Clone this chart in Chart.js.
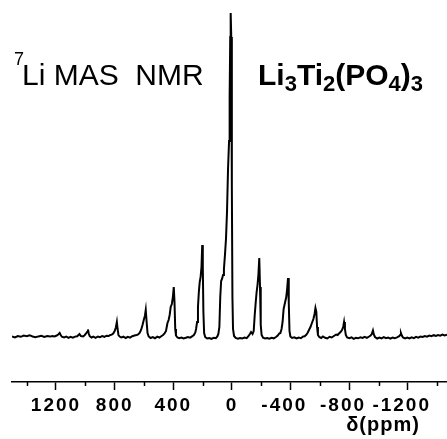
<!DOCTYPE html>
<html>
<head>
<meta charset="utf-8">
<script src="https://cdn.jsdelivr.net/npm/chart.js@4/dist/chart.umd.min.js"></script>
<style>
  html, body { margin: 0; padding: 0; background: #fff; }
  #wrap { width: 447px; height: 439px; position: relative; }
</style>
</head>
<body>
<div id="wrap"><canvas id="nmrChart"></canvas></div>
<script>
"use strict";

// chemical shift (ppm)
const shiftPpm = [
  1500, 1480, 1460, 1440, 1420, 1400, 1380, 1360, 1340, 1320, 1300, 1280,
  1260, 1240, 1225, 1210, 1195, 1185, 1175, 1168, 1160, 1145, 1130, 1115,
  1100, 1085, 1070, 1055, 1040, 1030, 1015, 1005, 995, 988, 982, 976,
  970, 958, 945, 930, 915, 900, 885, 870, 855, 840, 830, 820,
  810, 800, 792, 785, 780, 774, 766, 755, 740, 725, 710, 695,
  680, 665, 650, 640, 630, 620, 610, 600, 594, 588, 582, 576,
  568, 555, 540, 525, 510, 495, 480, 470, 460, 450, 440, 432,
  425, 418, 410, 403, 397, 392, 387, 382, 372, 360, 345, 330,
  315, 300, 285, 270, 260, 250, 245, 238, 232, 226, 220, 214,
  208, 203, 199, 195, 190, 183, 170, 155, 140, 125, 110, 100,
  93, 86, 80, 74, 68, 61, 55, 48, 41, 34, 27, 20,
  16, 12, 9, 5, 1, -3, -7, -14, -25, -40, -55, -70,
  -85, -100, -112, -122, -130, -140, -148, -155, -162, -168, -174, -180,
  -186, -191, -196, -202, -212, -225, -240, -255, -270, -285, -300, -312,
  -322, -330, -338, -345, -352, -358, -364, -370, -376, -382, -387, -392,
  -398, -410, -425, -440, -455, -470, -485, -495, -505, -515, -525, -535,
  -545, -555, -563, -569, -575, -580, -586, -595, -608, -620, -635, -650,
  -665, -680, -695, -710, -720, -730, -740, -750, -758, -764, -770, -776,
  -785, -800, -815, -830, -845, -860, -875, -890, -905, -920, -935, -945,
  -953, -961, -967, -975, -990, -1005, -1020, -1035, -1050, -1065, -1080, -1095,
  -1110, -1125, -1140, -1147, -1152, -1158, -1166, -1180, -1195, -1210, -1225, -1240,
  -1255, -1270, -1285, -1300, -1315, -1330, -1345, -1360, -1375, -1390, -1405, -1420,
  -1435, -1450, -1466
];

// intensity (a.u.)
const intensity = [
  0.5, -0.5, 1.0, 0.2, 1.5, 0.8, 1.8, 0.5, -0.3, 0.6, 1.2, 0.1,
  0.9, 0.4, 1.0, 0.6, 1.5, 2.5, 4.0, 2.0, 0.3, -0.4, 0.5, -0.8,
  0.2, -0.6, 0.4, 0.8, 3.0, 1.0, 0.6, 1.8, 3.5, 5.0, 7.5, 3.0,
  0.8, -0.5, 0.3, -0.8, 0.5, -0.2, 0.9, 0.2, 1.3, 1.0, 2.0, 2.4,
  3.5, 6.0, 9.5, 15.0, 8.0, 2.0, 0.5, -0.5, 0.3, -1.0, 0.2, -0.6,
  0.8, 1.5, 2.0, 2.5, 4.0, 7.0, 12.0, 18.0, 21.0, 27.0, 15.0, 4.0,
  0.5, -1.0, 0.0, -1.2, 0.4, -0.5, 1.0, 2.0, 3.5, 6.0, 14.0, 17.0,
  22, 30, 33, 40, 50, 35, 8, 1.5, -0.5, -1.2, -0.5, -1.5,
  -0.8, 0.0, -0.6, 0.8, 2.0, 4.5, 8, 15, 30, 45, 55, 60,
  70, 92, 70, 25, 4, 0, -1.5, -1.0, -1.8, -0.8, -1.2, 0.5,
  3, 10, 40, 56, 58, 62, 68, 82, 98, 125, 168, 196,
  240, 300, 324, 300, 150, 40, 8, 1.0, -1.0, -1.8, -1.0, -1.5,
  -0.5, -1.2, 0.8, 3.0, 5.0, 3.0, 6.0, 22, 35, 45, 52, 62,
  79, 50, 12, 2, -0.8, -1.5, -1.0, -1.6, -0.7, -1.3, 0.0, 1.5,
  3.5, 4.0, 8, 15, 28, 32, 36, 40, 48, 59, 35, 6,
  0.5, -1.0, -0.4, -1.5, -0.6, -1.2, 0.5, 0.8, 2.0, 4.0, 7.0, 10.0,
  14, 18, 23, 29, 25, 10, 2, 0, -1.0, 0.5, -0.8, -1.5,
  0.2, -0.5, 1.0, 2.5, 2.0, 3.5, 5.0, 7.0, 10, 15, 8, 2,
  -0.5, -1.2, -0.4, -1.8, -0.8, -1.3, -0.3, -1.0, 0.2, -0.8, 0.5, 1.5,
  3.0, 6.5, 2.5, 0.0, -1.5, -0.6, -1.4, -0.2, -1.2, -0.5, -1.6, -0.6,
  -1.3, -0.3, 0.8, 2.0, 4.0, 1.5, -0.5, -1.4, -0.6, -1.5, -0.4, -1.1,
  0.1, -0.6, 0.4, 0.0, 1.0, 0.3, 1.4, 0.8, 1.8, 1.0, 2.0, 1.3,
  2.4, 1.6, 2.2
];

// labelled and unlabelled ticks on the shift axis
const majorTicks = [1200, 800, 400, 0, -400, -800, -1200];
const minorTicks = [1400, 1000, 600, 200, -200, -600, -1000, -1400];

const FONT = "'Liberation Sans', Arial, Helvetica, sans-serif";

// short minor ticks and the text labels
const decorations = {
  id: 'decorations',
  beforeDraw(chart) {
    chart.ctx.letterSpacing = '2px';
  },
  afterDraw(chart) {
    const ctx = chart.ctx;
    const xs = chart.scales.x;
    const axisY = xs.top;
    ctx.save();
    ctx.letterSpacing = '0px';
    ctx.strokeStyle = '#000';
    ctx.lineWidth = 1.5;
    minorTicks.forEach(v => {
      const px = Math.round(xs.getPixelForValue(v)) + 0.5;
      ctx.beginPath();
      ctx.moveTo(px, axisY);
      ctx.lineTo(px, axisY + 4);
      ctx.stroke();
    });

    ctx.fillStyle = '#000';
    ctx.textBaseline = 'alphabetic';
    ctx.textAlign = 'left';

    // 7Li MAS  NMR
    ctx.font = '18px ' + FONT;
    ctx.fillText('7', 14, 65);
    ctx.font = '30px ' + FONT;
    ctx.fillText('Li MAS  NMR', 22, 85);

    // Li3Ti2(PO4)3
    const parts = [['Li', 0], ['3', 1], ['Ti', 0], ['2', 1], ['(PO', 0], ['4', 1], [')', 0], ['3', 1]];
    let x = 258;
    parts.forEach(([t, sub]) => {
      ctx.font = sub ? 'bold 22px ' + FONT : 'bold 30px ' + FONT;
      ctx.fillText(t, x, sub ? 91 : 85);
      x += ctx.measureText(t).width;
    });

    // axis title
    ctx.letterSpacing = '1px';
    ctx.textAlign = 'center';
    ctx.font = 'bold 20px ' + FONT;
    ctx.fillText('\u03b4(ppm)', 383, 431);
    ctx.restore();
    ctx.letterSpacing = '0px';
  }
};

const points = shiftPpm.map((s, i) => ({ x: s, y: intensity[i] }));

new Chart(document.getElementById('nmrChart'), {
  type: 'scatter',
  data: {
    datasets: [{
      data: points,
      showLine: true,
      borderColor: '#000',
      borderWidth: 2,
      pointRadius: 0,
      tension: 0
    }]
  },
  options: {
    responsive: true,
    maintainAspectRatio: false,
    animation: false,
    layout: { padding: { left: 12, right: 0, top: 0, bottom: 0 } },
    plugins: { legend: { display: false }, tooltip: { enabled: false } },
    scales: {
      x: {
        type: 'linear',
        reverse: true,
        min: -1466,
        max: 1500,
        afterBuildTicks(scale) {
          scale.ticks = majorTicks.map(v => ({ value: v }));
        },
        afterFit(scale) { scale.height = 57; },
        border: { display: true, color: '#000', width: 1.5 },
        grid: {
          drawOnChartArea: false,
          drawTicks: true,
          tickLength: 8,
          tickWidth: 1.5,
          tickColor: '#000'
        },
        ticks: {
          autoSkip: false,
          maxRotation: 0,
          padding: 4,
          color: '#000',
          font: { family: FONT, size: 19, weight: 'bold' },
          // minus sign hangs to the left of the centred digits
          callback: v => v < 0 ? String(v) + '\u2007' : String(v)
        }
      },
      y: {
        display: false,
        min: -45,
        max: 337
      }
    }
  },
  plugins: [decorations]
});
</script>
</body>
</html>
